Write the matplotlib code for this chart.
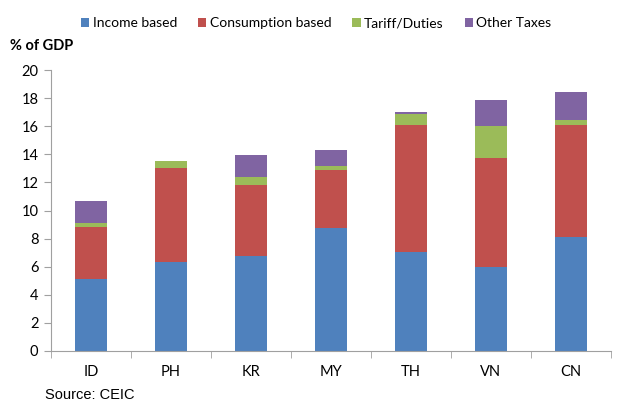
import numpy as np
import matplotlib.pyplot as plt

# Daten
countries = ['ID', 'PH', 'KR', 'MY', 'TH', 'VN', 'CN']
income = [5.1, 6.3, 6.75, 8.75, 7.05, 5.95, 8.1]
consumption = [3.7, 6.7, 5.05, 4.1, 9.0, 7.8, 8.0]
tariff = [0.3, 0.5, 0.6, 0.3, 0.85, 2.25, 0.35]
other = [1.6, 0.05, 1.55, 1.15, 0.1, 1.85, 1.95]

series = [('Income based', income, '#4F81BD'),
          ('Consumption based', consumption, '#C0504D'),
          ('Tariff/Duties', tariff, '#9BBB59'),
          ('Other Taxes', other, '#8064A2')]

plt.rcParams['font.family'] = ['Lato', 'DejaVu Sans']

fig = plt.figure(figsize=(6.2, 4.05), dpi=100)
ax = fig.add_axes([51/620, 1-351/405, 560/620, 281/405])

x = np.arange(len(countries))
bottom = np.zeros(len(countries))
for name, vals, col in series:
    ax.bar(x, vals, 0.41, bottom=bottom, color=col, label=name, edgecolor='none')
    bottom += np.array(vals)

ax.set_xlim(-0.5, len(countries) - 0.5)
ax.set_ylim(0, 20)
ax.set_yticks(range(0, 21, 2))
ax.set_xticks(x)
ax.set_xticklabels(countries)
ax.set_xticks(np.arange(-0.5, len(countries), 1), minor=True)
ax.tick_params(axis='x', which='major', length=0, pad=10, labelsize=10.5)
ax.tick_params(axis='x', which='minor', length=5, color='#A0A0A0', direction='out')
ax.tick_params(axis='y', length=5, color='#A0A0A0', labelsize=10.5, pad=4)

for s in ['top', 'right']:
    ax.spines[s].set_visible(False)
for s in ['left', 'bottom']:
    ax.spines[s].set_color('#A0A0A0')

fig.text(10/620, 1-46/405, '% of GDP', fontsize=10.5, fontweight='bold', va='center')
fig.text(45/620, 1-395/405, 'Source: CEIC', fontsize=10.5, va='center',
         family='Liberation Sans')

fig.legend(loc='center', bbox_to_anchor=(0.51, 1-23/405), ncol=4, frameon=False,
           handlelength=0.6, handleheight=0.6, handletextpad=0.25, columnspacing=1.5,
           fontsize=10)

fig.savefig('out.png', dpi=100)
